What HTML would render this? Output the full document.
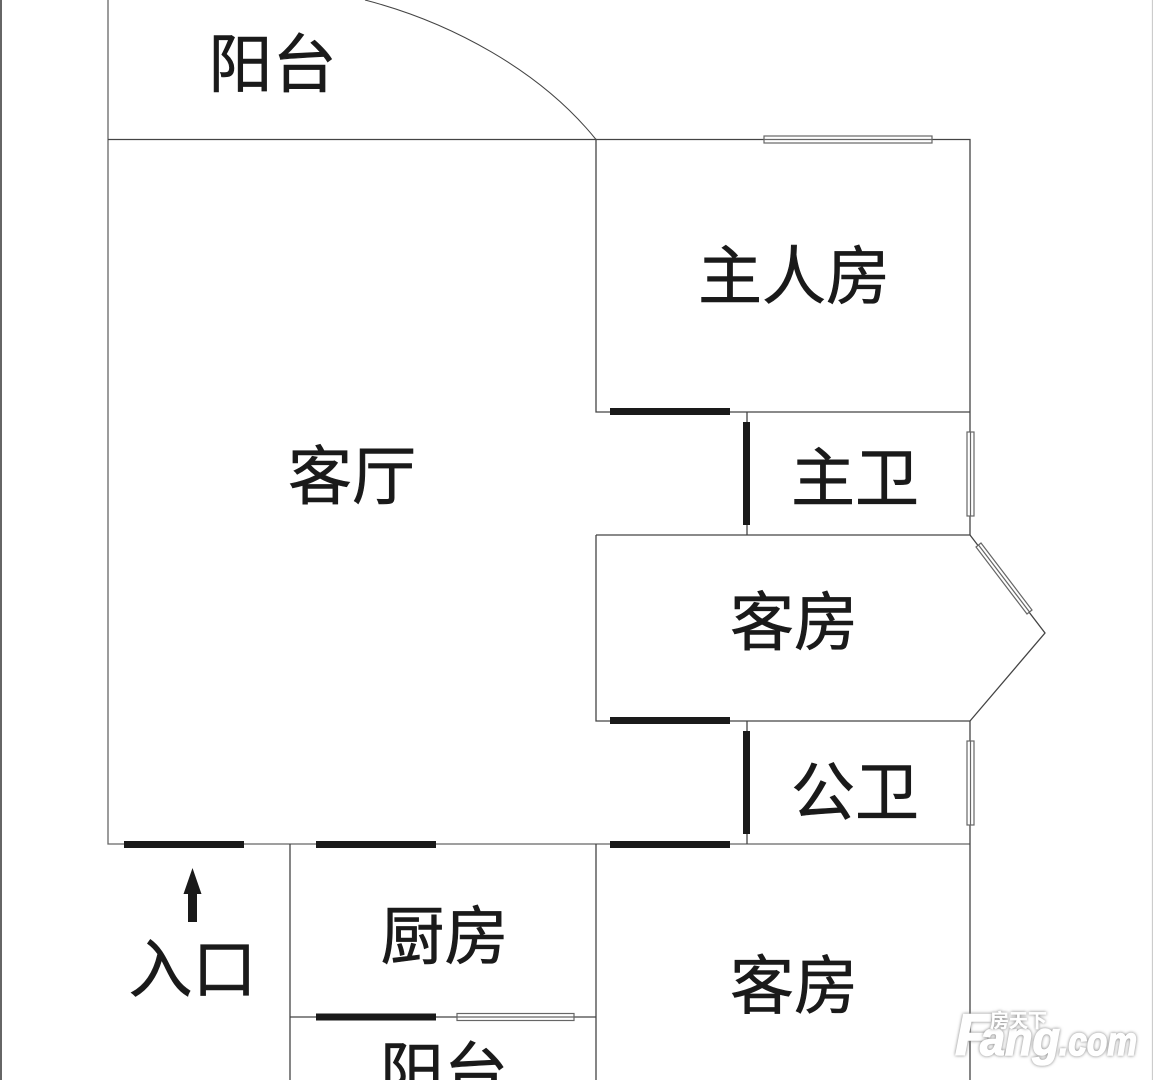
<!DOCTYPE html>
<html><head><meta charset="utf-8"><style>
html,body{margin:0;padding:0;background:#fff;width:1153px;height:1080px;overflow:hidden}
svg{display:block}
text{font-family:"Liberation Sans","Noto Sans CJK SC",sans-serif;font-size:64px;fill:#1a1a1a;stroke:#1a1a1a;stroke-width:.6px}
text.wm{font-family:"Liberation Sans","Noto Sans CJK SC",sans-serif;font-weight:bold;font-style:italic;fill:#fff;stroke:#fff;stroke-width:1.5px;filter:drop-shadow(0 0 1.5px #777)}
</style></head><body>
<svg width="1153" height="1080" viewBox="0 0 1153 1080" xmlns="http://www.w3.org/2000/svg">
<rect width="1153" height="1080" fill="#fff"/>
<g fill="none" stroke="#444" stroke-width="1.3">
<path d="M1 0V1080" stroke-width="2" stroke="#666"/>
<path d="M1152.500 0V1080" stroke="#ccc"/>
<path d="M108 0V844H970" stroke="#666"/>
<path d="M108 139.500H596V412H970"/>
<path d="M596 139.500H970V535"/>
<path d="M596 535H970L1045 633L970 721"/>
<path d="M596 535V721H970V1080"/>
<path d="M747 412V535"/>
<path d="M747 721V844"/>
<path d="M290 844V1080"/>
<path d="M596 844V1080"/>
<path d="M290 1017H596"/>
<path d="M365 0C450 22 540 70 596 139.500" stroke-width="1"/>
</g>
<g fill="#fff" stroke="#666" stroke-width="1.2">
<rect x="764" y="136" width="168" height="7"/><path d="M764 139.500H932"/>
<rect x="967" y="432" width="7" height="84"/><path d="M970.500 432V516"/>
<rect x="967" y="741" width="7" height="84"/><path d="M970.500 741V825"/>
<rect x="457" y="1013.500" width="117" height="7"/><path d="M457 1017H574"/>
<path d="M981 543L976 547L1027 614L1032 610Z"/><path d="M978.500 545L1029.500 612"/>
</g>
<g fill="#1a1a1a">
<rect x="124" y="841" width="120" height="7"/>
<rect x="316" y="841" width="120" height="7"/>
<rect x="610" y="841" width="120" height="7"/>
<rect x="610" y="408" width="120" height="7"/>
<rect x="610" y="717" width="120" height="7"/>
<rect x="316" y="1013.500" width="120" height="7"/>
<rect x="743" y="422" width="7" height="103"/>
<rect x="743" y="731" width="7" height="103"/>
<path d="M192.500 868L201.500 894H197V922H188V894H183.500Z"/>
</g>
<text x="208.500" y="87">阳台</text>
<text x="698" y="299">主人房</text>
<text x="288" y="499">客厅</text>
<text x="791" y="501">主卫</text>
<text x="730" y="645">客房</text>
<text x="791" y="815">公卫</text>
<text x="380.500" y="959">厨房</text>
<text x="128.500" y="992">入口</text>
<text x="730" y="1008.500">客房</text>
<text x="380" y="1095">阳台</text>
<text class="wm" x="955" y="1055" style="font-size:58px">F</text>
<text class="wm" x="980" y="1055" style="font-size:48px" textLength="80" lengthAdjust="spacingAndGlyphs">ang</text>
<text class="wm" x="1059" y="1055" style="font-size:40px" textLength="78" lengthAdjust="spacingAndGlyphs">.com</text>
<text class="wm" x="990" y="1027" style="font-size:19px;stroke-width:.3px;font-style:normal">房天下</text>
</svg>
</body></html>
